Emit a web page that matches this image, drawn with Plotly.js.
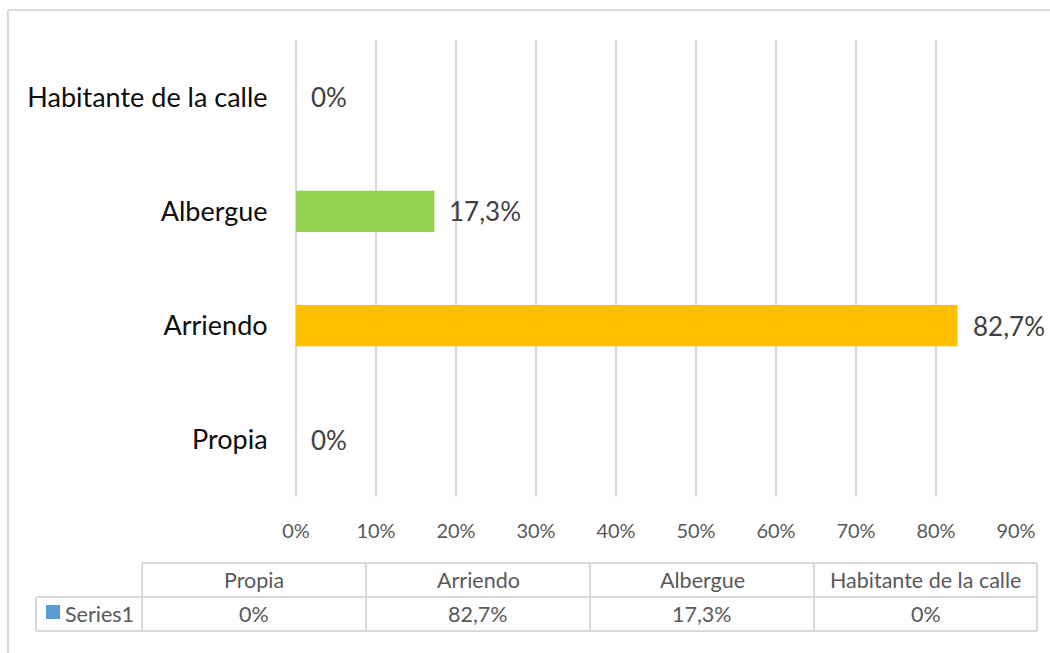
<!DOCTYPE html>
<html><head><meta charset="utf-8">
<script src="https://cdn.plot.ly/plotly-3.0.1.min.js"></script>
<style>html,body{margin:0;padding:0;background:#fff;}#chart{width:1050px;height:653px;}</style>
</head><body><div id="chart"></div>
<script>
const categories = ['Propia', 'Arriendo', 'Albergue', 'Habitante de la calle'];
const values = [0, 82.7, 17.3, 0];
const barColors = ['#5B9BD5', '#FFC000', '#92D050', '#A5A5A5'];
const seriesName = 'Series1';
const tickVals = [0, 10, 20, 30, 40, 50, 60, 70, 80, 90];
const tickText = ['0%', '10%', '20%', '30%', '40%', '50%', '60%', '70%', '80%', '90%'];

const fmt = v => (Number.isInteger(v) ? String(v) : v.toFixed(1).replace('.', ',')) + '%';

// plot area in pixels: x 296..1016, y 40..497
const L = 296, R = 1016, T = 40, B = 497;
const px = x => (x - L) / (R - L);
const py = y => (B - y) / (B - T);
const FONT = 'Lato, "Open Sans", sans-serif';
const GRID = '#d9d9d9';

const annotations = [];
// data labels
categories.forEach((c, i) => {
  annotations.push({x: values[i], y: c, xref: 'x', yref: 'y', text: fmt(values[i]),
    showarrow: false, xanchor: 'left', xshift: 13, font: {family: FONT, size: 26, color: '#404040'}});
});

const shapes = [];
const line = (x0, y0, x1, y1) => shapes.push({type: 'line', xref: 'paper', yref: 'paper',
  x0: px(x0), y0: py(y0), x1: px(x1), y1: py(y1), line: {color: GRID, width: 2}});
// outer chart frame
line(8, 10, 1060, 10);
line(8, 10, 8, 670);
// data table
const colX = [142, 366, 590, 814, 1037];
line(142, 563, 1037, 563);
line(36, 597, 1037, 597);
line(36, 631, 1037, 631);
line(36, 597, 36, 631);
colX.forEach(x => line(x, 563, x, 631));
categories.forEach((c, i) => {
  const cx = (colX[i] + colX[i + 1]) / 2;
  annotations.push({x: px(cx), y: py(580), xref: 'paper', yref: 'paper', text: c, showarrow: false,
    xanchor: 'center', yanchor: 'middle', font: {family: FONT, size: 21.5, color: '#595959'}});
  annotations.push({x: px(cx), y: py(614), xref: 'paper', yref: 'paper', text: fmt(values[i]), showarrow: false,
    xanchor: 'center', yanchor: 'middle', font: {family: FONT, size: 21.5, color: '#595959'}});
});
// legend key
shapes.push({type: 'rect', xref: 'paper', yref: 'paper', x0: px(46), x1: px(60), y0: py(619), y1: py(605),
  fillcolor: '#5B9BD5', line: {width: 0}});
annotations.push({x: px(63), y: py(614), xref: 'paper', yref: 'paper', text: seriesName, showarrow: false,
  xanchor: 'left', yanchor: 'middle', font: {family: FONT, size: 21.5, color: '#595959'}});

const trace = {type: 'bar', orientation: 'h', x: values, y: categories, name: seriesName,
  marker: {color: barColors}, width: 0.36, hoverinfo: 'skip'};

const layout = {
  width: 1050, height: 653, paper_bgcolor: '#fff', plot_bgcolor: '#fff',
  margin: {l: L, r: 1050 - R, t: T, b: 653 - B, pad: 0},
  showlegend: false,
  font: {family: FONT},
  xaxis: {range: [0, 90], tickvals: tickVals, ticktext: tickText, showgrid: true, gridcolor: GRID, gridwidth: 2,
    zeroline: true, zerolinecolor: GRID, zerolinewidth: 2, showline: false, ticks: 'outside', ticklen: 16,
    tickcolor: 'rgba(0,0,0,0)', tickfont: {family: FONT, size: 20, color: '#595959'}, fixedrange: true},
  yaxis: {type: 'category', categoryorder: 'array', categoryarray: categories, showgrid: false, zeroline: false,
    showline: false, ticks: 'outside', ticklen: 22, tickcolor: 'rgba(0,0,0,0)',
    tickfont: {family: FONT, size: 27, color: '#0d0d0d'}, fixedrange: true},
  annotations: annotations, shapes: shapes
};
Plotly.newPlot('chart', [trace], layout, {displayModeBar: false, staticPlot: true});
</script></body></html>
